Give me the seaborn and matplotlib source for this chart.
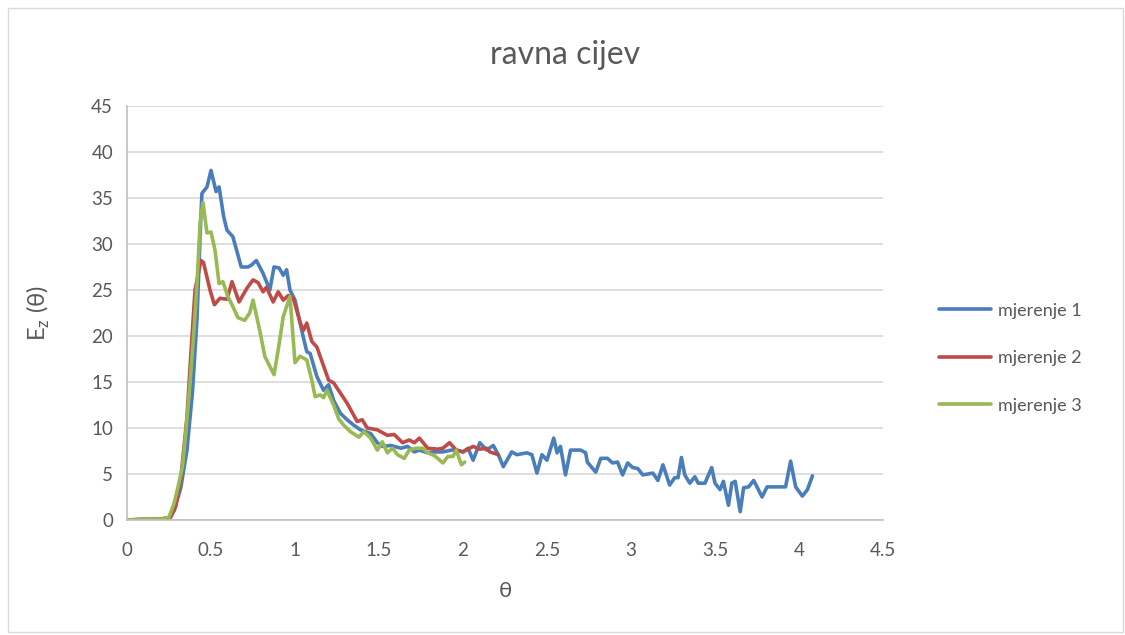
import pandas as pd
import matplotlib
matplotlib.use("Agg")
import matplotlib.pyplot as plt
import seaborn as sns
from matplotlib.patches import Rectangle
from matplotlib.ticker import FuncFormatter

# mjerenje 1
x1 = [0, 0.1, 0.2, 0.25, 0.28, 0.32, 0.357, 0.39, 0.417, 0.435, 0.446, 0.476, 0.50, 0.53,
      0.548, 0.575, 0.595, 0.63, 0.68, 0.72, 0.74, 0.77, 0.81, 0.85, 0.875, 0.905, 0.93,
      0.95, 0.97, 1.0, 1.04, 1.07, 1.09, 1.13, 1.17, 1.20, 1.23, 1.27, 1.31, 1.35, 1.39,
      1.45, 1.49, 1.52, 1.57, 1.63, 1.67, 1.71, 1.74, 1.79, 1.82, 1.88, 1.93, 1.96, 2.0,
      2.03, 2.06, 2.10, 2.14, 2.18, 2.21, 2.24, 2.29, 2.32, 2.38, 2.41, 2.44, 2.47, 2.50,
      2.54, 2.56, 2.58, 2.61, 2.64, 2.70, 2.73, 2.74, 2.79, 2.82, 2.86, 2.89, 2.92, 2.95,
      2.98, 3.01, 3.04, 3.07, 3.13, 3.16, 3.19, 3.23, 3.26, 3.28, 3.30, 3.32, 3.35, 3.38,
      3.40, 3.44, 3.48, 3.50, 3.53, 3.55, 3.58, 3.60, 3.62, 3.65, 3.67, 3.70, 3.73, 3.75,
      3.78, 3.81, 3.92, 3.95, 3.98, 4.02, 4.05, 4.08]
y1 = [0, 0.1, 0.1, 0.2, 1.0, 3.5, 7.6, 14, 22, 31, 35.5, 36.2, 38, 35.7,
      36.2, 33, 31.5, 30.8, 27.5, 27.5, 27.7, 28.2, 26.8, 25, 27.5, 27.4, 26.6,
      27.2, 25, 23.9, 20.6, 18.3, 18.1, 15.6, 14.1, 14.7, 13, 11.6, 10.9, 10.3, 9.8,
      9.4, 8.4, 8, 8.1, 7.8, 8, 7.4, 7.6, 7.3, 7.4, 7.4, 7.6, 7.6, 7.4,
      7.8, 6.5, 8.4, 7.6, 8.1, 7.1, 5.8, 7.4, 7.1, 7.3, 7.1, 5.1, 7.1, 6.5,
      8.9, 7.3, 8.0, 4.9, 7.6, 7.6, 7.3, 6.3, 5.2, 6.7, 6.7, 6.2, 6.3, 4.9,
      6.2, 5.7, 5.6, 4.9, 5.1, 4.3, 6.0, 3.8, 4.6, 4.6, 6.8, 4.9, 4.0, 4.7,
      4.0, 4.0, 5.7, 4.0, 3.3, 4.2, 1.6, 4.0, 4.2, 0.9, 3.5, 3.6, 4.3, 3.6,
      2.5, 3.6, 3.6, 6.4, 3.6, 2.6, 3.3, 4.8]

# mjerenje 2
x2 = [0, 0.1, 0.2, 0.26, 0.29, 0.32, 0.357, 0.38, 0.405, 0.44, 0.455, 0.494, 0.52, 0.553,
      0.595, 0.625, 0.667, 0.714, 0.75, 0.78, 0.81, 0.83, 0.87, 0.90, 0.93, 0.96, 0.99,
      1.03, 1.05, 1.07, 1.10, 1.13, 1.20, 1.23, 1.31, 1.37, 1.40, 1.43, 1.49, 1.55, 1.59,
      1.64, 1.68, 1.71, 1.74, 1.79, 1.85, 1.88, 1.92, 1.96, 2.0, 2.06, 2.10, 2.14, 2.16,
      2.21]
y2 = [0, 0.05, 0.1, 0.3, 1.5, 4.5, 11.2, 18, 25, 28.2, 28, 25, 23.4, 24.1,
      24, 25.9, 23.7, 25.2, 26.1, 25.8, 24.8, 25.3, 23.7, 24.8, 23.9, 24.4, 24.1,
      21.5, 20.6, 21.4, 19.4, 18.8, 15.2, 14.9, 12.7, 10.7, 10.9, 10, 9.8, 9.2, 9.3,
      8.4, 8.7, 8.4, 8.9, 7.8, 7.7, 7.8, 8.4, 7.6, 7.4, 8.0, 7.7, 7.8, 7.4,
      7.1]

# mjerenje 3
x3 = [0, 0.1, 0.2, 0.25, 0.28, 0.30, 0.33, 0.35, 0.375, 0.40, 0.417, 0.435, 0.452, 0.476,
      0.50, 0.524, 0.548, 0.571, 0.60, 0.63, 0.66, 0.70, 0.73, 0.75, 0.79, 0.82, 0.85,
      0.875, 0.90, 0.93, 0.97, 1.0, 1.03, 1.07, 1.10, 1.12, 1.15, 1.17, 1.19, 1.23, 1.26,
      1.29, 1.33, 1.38, 1.41, 1.45, 1.49, 1.52, 1.55, 1.58, 1.61, 1.65, 1.68, 1.72, 1.76,
      1.79, 1.83, 1.88, 1.91, 1.94, 1.96, 1.99, 2.01]
y3 = [0, 0.1, 0.1, 0.3, 1.8, 3.3, 5.8, 9.5, 14.9, 21, 25.8, 32.3, 34.5, 31.2,
      31.3, 29.3, 25.7, 25.9, 24.3, 23.2, 22, 21.7, 22.5, 23.9, 20.6, 17.8, 16.7,
      15.8, 18.5, 22.1, 24.3, 17.1, 17.8, 17.4, 15.2, 13.4, 13.6, 13.3, 14.1, 12.5, 11,
      10.3, 9.6, 9.0, 9.6, 8.9, 7.6, 8.5, 7.3, 7.8, 7.1, 6.7, 7.6, 7.8, 7.8,
      7.3, 7.0, 6.2, 6.9, 6.9, 7.6, 6.0, 6.3]

series = ["mjerenje 1", "mjerenje 2", "mjerenje 3"]
colors = ["#4A7EBB", "#BE4B48", "#98B954"]

df = pd.concat([
    pd.DataFrame({"theta": x, "Ez": y, "serija": s})
    for x, y, s in zip([x1, x2, x3], [y1, y2, y3], series)
], ignore_index=True)

sns.set_theme(style="white")
plt.rcParams["font.family"] = ["Lato", "DejaVu Sans"]

fig = plt.figure(figsize=(11.25, 6.35), dpi=100)
ax = fig.add_axes([0.1129, 0.1811, 0.6720, 0.6520])

sns.lineplot(data=df, x="theta", y="Ez", hue="serija", palette=colors,
             estimator=None, sort=False, linewidth=2.6, ax=ax)

ax.set_xlim(0, 4.5)
ax.set_ylim(0, 45)
ax.set_xticks([i * 0.5 for i in range(10)])
ax.set_yticks(range(0, 50, 5))
ax.xaxis.set_major_formatter(FuncFormatter(lambda v, p: f"{v:g}"))
ax.grid(axis="y", color="#D9D9D9", linewidth=1.2)
ax.set_axisbelow(True)
for s in ["top", "right"]:
    ax.spines[s].set_visible(False)
for s in ["left", "bottom"]:
    ax.spines[s].set_color("#BFBFBF")
    ax.spines[s].set_linewidth(1.2)
ax.tick_params(axis="both", length=0, labelsize=13.5, labelcolor="#595959")
ax.tick_params(axis="x", pad=16)
ax.tick_params(axis="y", pad=10)

ax.set_xlabel("θ", fontsize=16, color="#595959", labelpad=16)
ax.set_ylabel("E$_\\mathregular{z}$ (θ)", fontsize=17, color="#595959", labelpad=28)

fig.text(0.502, 0.913, "ravna cijev", ha="center", va="center", fontsize=23, color="#595959")

leg = ax.legend(loc="center left", bbox_to_anchor=(0.82, 0.436), bbox_transform=fig.transFigure,
                frameon=False, fontsize=13, handlelength=2.9, labelspacing=1.75, handletextpad=0.4)
for t in leg.get_texts():
    t.set_color("#595959")
for h in leg.get_lines():
    h.set_linewidth(2.6)

fig.patches.append(Rectangle((0.007, 0.004), 0.991, 0.984, transform=fig.transFigure,
                             fill=False, edgecolor="#D9D9D9", linewidth=1.0))

fig.savefig("out.png", dpi=100)
